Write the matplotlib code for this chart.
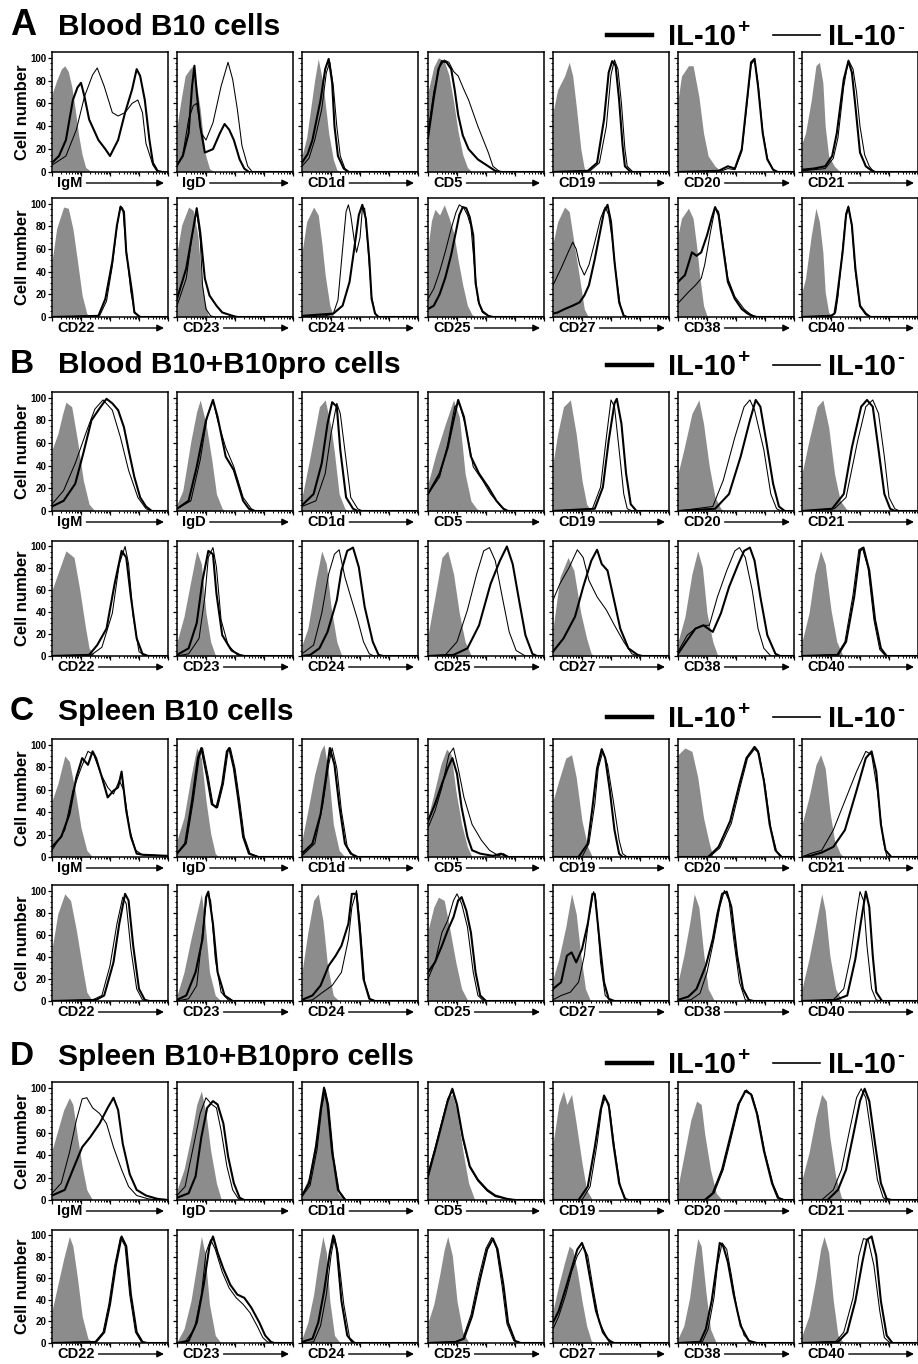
import matplotlib
matplotlib.use('Agg')
import matplotlib.pyplot as plt
import numpy as np

plt.rcParams['font.family'] = ['Liberation Sans', 'DejaVu Sans']
plt.rcParams['font.weight'] = 'bold'

# marker names for the two rows of each panel
top_markers = ['IgM', 'IgD', 'CD1d', 'CD5', 'CD19', 'CD20', 'CD21']
bot_markers = ['CD22', 'CD23', 'CD24', 'CD25', 'CD27', 'CD38', 'CD40']

# histogram curves: (x in % of axis width, cell number %)
# grey = isotype control, pos = IL-10+ (thick), neg = IL-10- (thin)

# ---- A: Blood B10 cells
A_top_grey = [
    [(0,68),(4,80),(8,90),(11,93),(14,88),(17,75),(20,55),(23,32),(26,15),(29,4),(33,1),(38,0)],
    [(0,40),(3,60),(7,84),(11,90),(14,93),(17,75),(20,55),(24,17),(28,3),(32,0)],
    [(0,14),(4,30),(7,52),(11,81),(14,99),(18,78),(23,34),(27,11),(30,2),(34,0)],
    [(0,70),(5,92),(9,100),(14,97),(18,85),(22,62),(26,35),(30,15),(34,4),(38,0)],
    [(0,52),(4,72),(10,84),(14,96),(17,84),(20,58),(24,20),(27,3),(30,0)],
    [(0,63),(3,84),(9,93),(13,93),(18,66),(22,34),(26,14),(32,5),(37,1),(40,0)],
    [(0,25),(3,34),(8,63),(12,93),(15,96),(18,78),(20,40),(23,14),(28,5),(33,0)],
]
A_top_pos = [
    [(0,8),(6,14),(12,28),(18,63),(22,74),(25,78),(28,66),(32,46),(40,28),(46,20),(50,14),(57,28),(63,52),(69,72),(73,90),(76,84),(80,63),(84,28),(87,8),(91,1),(95,0)],
    [(0,6),(5,14),(10,34),(13,75),(15,93),(17,70),(20,40),(24,17),(31,20),(37,34),(41,42),(45,37),(49,28),(54,11),(58,3),(62,0)],
    [(0,8),(5,16),(9,28),(16,63),(20,90),(23,99),(26,78),(28,40),(31,14),(36,3),(40,0)],
    [(0,30),(5,65),(9,90),(12,97),(16,96),(20,90),(23,72),(26,50),(30,32),(35,20),(43,11),(52,5),(58,1),(62,0)],
    [(0,0),(30,1),(38,8),(44,46),(48,87),(51,97),(54,93),(57,63),(60,23),(62,5),(67,0)],
    [(0,0),(35,1),(43,5),(49,3),(55,20),(59,58),(63,96),(66,99),(69,75),(73,34),(77,11),(82,2),(86,0)],
    [(0,2),(10,3),(20,5),(26,14),(30,34),(36,81),(40,97),(43,87),(46,58),(50,17),(55,5),(59,2),(63,0)],
]
A_top_neg = [
    [(0,6),(12,14),(21,37),(28,66),(35,85),(39,91),(45,75),(52,52),(57,49),(63,52),(69,60),(74,63),(78,52),(81,25),(87,6),(91,0)],
    [(0,5),(5,15),(10,46),(14,58),(17,60),(21,34),(25,28),(31,43),(38,75),(44,96),(48,81),(52,55),(56,23),(61,5),(65,0)],
    [(0,5),(6,12),(11,28),(17,55),(21,87),(24,96),(27,75),(30,40),(33,14),(37,3),(41,0)],
    [(0,35),(5,70),(10,92),(14,98),(18,96),(22,88),(26,84),(31,72),(35,63),(43,40),(52,17),(56,5),(61,1),(65,0)],
    [(0,0),(32,1),(40,8),(46,40),(50,85),(53,98),(56,90),(59,60),(62,20),(64,5),(69,0)],
    [(0,0),(35,0),(43,3),(49,2),(55,18),(59,55),(63,94),(66,98),(69,78),(73,36),(77,12),(82,2),(86,0)],
    [(0,1),(20,3),(27,12),(31,30),(36,75),(40,98),(44,90),(47,70),(50,40),(54,15),(58,5),(62,0)],
]
A_bot_grey = [
    [(0,49),(4,78),(10,97),(14,96),(18,78),(22,49),(26,19),(30,3),(33,0)],
    [(0,57),(4,81),(10,97),(14,94),(18,72),(21,34),(24,13),(27,1),(30,0)],
    [(0,57),(4,84),(10,97),(14,90),(17,66),(20,37),(24,10),(27,1),(30,0)],
    [(0,62),(3,85),(6,95),(10,90),(14,99),(18,88),(22,75),(26,50),(30,28),(34,10),(38,2),(41,0)],
    [(0,65),(4,84),(10,97),(14,93),(18,66),(23,34),(27,7),(30,1),(33,0)],
    [(0,72),(3,87),(9,96),(13,87),(16,63),(19,34),(22,10),(25,1),(28,0)],
    [(0,22),(3,34),(8,72),(12,96),(15,84),(18,57),(20,22),(23,4),(26,1),(29,0)],
]
A_bot_pos = [
    [(0,0),(40,1),(46,16),(52,49),(56,81),(59,97),(62,93),(64,57),(69,22),(71,4),(76,0)],
    [(0,16),(8,43),(14,78),(17,96),(20,75),(24,34),(28,19),(34,10),(39,4),(48,1),(52,0)],
    [(0,1),(27,3),(35,10),(41,31),(45,60),(49,90),(52,99),(55,87),(58,51),(60,16),(63,3),(66,0)],
    [(0,7),(5,10),(10,20),(15,35),(20,55),(24,75),(27,90),(30,97),(33,96),(36,88),(39,72),(41,30),(44,12),(47,5),(52,1),(56,0)],
    [(0,3),(4,4),(10,7),(17,10),(23,13),(27,19),(31,28),(36,51),(40,72),(44,93),(47,99),(50,84),(53,49),(57,13),(61,1),(64,0)],
    [(0,31),(6,37),(12,57),(16,54),(20,57),(25,72),(29,87),(32,97),(35,90),(39,60),(43,31),(49,16),(55,7),(60,3),(66,0)],
    [(0,0),(25,1),(28,3),(30,16),(35,57),(38,90),(40,97),(43,81),(46,43),(50,10),(55,3),(59,0)],
]
A_bot_neg = [
    [(0,0),(41,1),(47,14),(52,45),(56,80),(59,98),(61,96),(64,60),(68,22),(71,5),(75,0)],
    [(0,10),(8,34),(13,72),(17,93),(20,69),(22,28),(25,7),(29,1),(33,0)],
    [(0,0),(20,1),(27,3),(31,15),(35,60),(38,93),(40,99),(42,90),(45,68),(47,57),(50,70),(52,95),(54,96),(57,60),(60,18),(63,3),(66,0)],
    [(0,16),(5,25),(10,40),(15,58),(20,78),(24,92),(27,99),(31,96),(34,90),(37,80),(40,45),(43,15),(47,4),(52,1),(56,0)],
    [(0,28),(7,43),(13,57),(17,66),(20,60),(23,46),(27,37),(31,46),(36,66),(41,87),(45,97),(48,90),(51,69),(54,40),(58,10),(61,1),(64,0)],
    [(0,12),(9,22),(15,28),(20,34),(23,46),(28,75),(32,96),(35,93),(39,63),(43,34),(49,18),(57,7),(63,2),(69,0)],
    [(0,0),(25,1),(29,4),(31,18),(35,60),(38,92),(40,98),(43,80),(46,40),(50,9),(55,2),(59,0)],
]

# ---- B: Blood B10+B10pro cells
B_top_grey = [
    [(0,54),(5,68),(9,85),(12,96),(17,92),(22,62),(27,27),(32,6),(37,0)],
    [(0,6),(5,18),(12,62),(17,88),(20,98),(25,77),(30,45),(34,15),(39,2),(42,0)],
    [(0,12),(7,48),(15,92),(20,98),(25,74),(28,51),(32,15),(37,2),(40,0)],
    [(0,24),(7,51),(15,77),(22,98),(27,83),(32,33),(37,9),(42,2),(45,0)],
    [(0,42),(4,68),(9,92),(15,98),(20,68),(25,27),(29,6),(33,0)],
    [(0,33),(5,54),(12,86),(18,98),(22,77),(27,39),(32,12),(37,2),(40,0)],
    [(0,33),(6,62),(13,92),(18,98),(23,74),(28,33),(33,9),(38,2),(41,0)],
]
B_top_pos = [
    [(0,4),(10,9),(20,24),(27,51),(34,80),(42,92),(47,99),(52,95),(57,89),(62,74),(66,54),(71,30),(76,12),(81,4),(86,0)],
    [(0,2),(10,9),(17,39),(25,80),(31,98),(35,83),(42,48),(49,36),(57,9),(62,2),(66,0)],
    [(0,5),(10,15),(17,42),(22,77),(26,96),(30,92),(33,54),(38,12),(44,2),(48,0)],
    [(0,15),(10,33),(17,56),(22,80),(26,98),(31,83),(37,48),(44,33),(52,21),(59,9),(65,2),(69,0)],
    [(0,0),(36,2),(43,21),(48,62),(53,95),(55,99),(59,77),(63,33),(67,6),(72,0)],
    [(0,0),(32,2),(44,15),(54,48),(62,80),(67,98),(71,92),(76,62),(82,24),(87,4),(92,0)],
    [(0,0),(26,2),(36,15),(43,56),(51,92),(56,98),(61,92),(66,54),(71,15),(76,2),(80,0)],
]
B_top_neg = [
    [(0,6),(10,18),(20,42),(30,71),(37,90),(44,98),(52,89),(59,65),(66,36),(74,12),(81,2),(86,0)],
    [(0,2),(12,9),(20,45),(26,83),(31,98),(35,80),(42,56),(49,39),(57,12),(64,2),(68,0)],
    [(0,4),(12,9),(20,33),(25,68),(30,95),(33,86),(38,45),(42,12),(48,2),(52,0)],
    [(0,15),(10,30),(17,59),(23,92),(27,95),(32,77),(39,39),(47,27),(54,15),(62,5),(67,0)],
    [(0,0),(34,2),(41,21),(46,65),(50,98),(53,92),(57,54),(61,15),(64,2),(68,0)],
    [(0,0),(30,4),(39,27),(49,65),(57,92),(62,98),(66,89),(74,54),(80,15),(85,2),(89,0)],
    [(0,0),(28,2),(38,12),(48,62),(55,92),(61,98),(66,86),(71,48),(75,12),(80,2),(84,0)],
]
B_bot_grey = [
    [(0,60),(5,75),(12,96),(19,90),(24,60),(29,25),(32,7),(37,0)],
    [(0,13),(6,36),(12,69),(17,96),(21,84),(25,39),(29,13),(33,1),(36,0)],
    [(0,10),(5,25),(12,69),(17,96),(21,84),(25,45),(30,13),(34,1),(37,0)],
    [(0,19),(6,54),(12,90),(17,96),(22,75),(27,39),(32,13),(37,1),(40,0)],
    [(0,25),(6,72),(13,90),(18,78),(24,39),(29,16),(33,2),(36,0)],
    [(0,13),(6,36),(12,75),(17,96),(21,81),(25,39),(30,13),(34,1),(37,0)],
    [(0,13),(6,39),(11,75),(16,96),(20,84),(25,42),(30,13),(35,1),(38,0)],
]
B_bot_pos = [
    [(0,0),(32,1),(39,10),(47,25),(54,66),(60,96),(64,90),(68,54),(73,16),(78,2),(83,0)],
    [(0,1),(10,7),(17,30),(22,69),(27,96),(31,93),(34,57),(39,19),(47,5),(54,1),(58,0)],
    [(0,0),(7,1),(15,7),(22,22),(30,51),(34,78),(39,96),(44,99),(49,81),(54,45),(61,13),(66,1),(70,0)],
    [(0,0),(22,1),(34,7),(44,28),(54,66),(62,87),(68,100),(73,84),(79,48),(84,19),(90,2),(94,0)],
    [(0,4),(9,16),(19,36),(26,63),(33,87),(38,97),(42,84),(47,78),(52,54),(58,25),(65,7),(73,1),(77,0)],
    [(0,2),(7,13),(15,25),(22,28),(30,22),(37,39),(44,63),(52,84),(57,96),(62,99),(66,87),(71,54),(77,19),(84,2),(88,0)],
    [(0,0),(31,1),(38,13),(45,54),(50,96),(53,99),(58,78),(63,33),(68,7),(73,0)],
]
B_bot_neg = [
    [(0,0),(34,1),(43,8),(52,39),(58,84),(63,100),(66,84),(70,36),(75,4),(80,0)],
    [(0,0),(10,2),(19,16),(24,54),(27,90),(31,99),(34,81),(38,33),(44,10),(52,1),(56,0)],
    [(0,2),(10,10),(17,39),(23,75),(28,93),(32,97),(37,72),(42,54),(48,33),(53,13),(58,2),(62,0)],
    [(0,0),(15,1),(25,13),(34,42),(42,75),(48,96),(53,99),(58,87),(64,54),(70,22),(76,5),(84,0)],
    [(0,51),(6,66),(14,81),(21,97),(26,90),(31,69),(38,54),(46,42),(53,28),(61,13),(68,2),(73,0)],
    [(0,4),(8,19),(15,25),(21,28),(27,28),(34,54),(42,78),(49,96),(53,99),(58,90),(64,60),(69,25),(74,7),(80,0)],
    [(0,0),(30,1),(37,13),(44,56),(49,97),(52,99),(57,80),(62,33),(67,6),(72,0)],
]

# ---- C: Spleen B10 cells
C_top_grey = [
    [(0,50),(5,65),(11,90),(15,85),(20,59),(25,26),(30,6),(35,0)],
    [(0,15),(6,35),(12,71),(17,97),(21,88),(25,50),(29,21),(33,3),(36,0)],
    [(0,15),(5,41),(11,74),(16,94),(19,100),(23,74),(27,29),(32,6),(37,0)],
    [(0,35),(5,56),(11,82),(16,96),(20,91),(24,59),(29,29),(34,9),(38,0)],
    [(0,50),(5,68),(11,88),(16,91),(20,71),(25,32),(30,9),(34,0)],
    [(0,91),(6,97),(12,94),(17,71),(22,35),(27,12),(30,1),(33,0)],
    [(0,29),(6,53),(12,82),(16,91),(20,79),(24,41),(28,15),(33,3),(36,0)],
]
C_top_pos = [
    [(0,9),(8,18),(15,38),(21,71),(26,88),(31,82),(35,94),(38,88),(43,71),(48,53),(53,59),(57,62),(60,76),(64,41),(68,18),(73,3),(78,2),(100,1)],
    [(0,3),(7,12),(13,50),(18,88),(21,97),(26,71),(30,47),(34,44),(39,65),(43,94),(45,97),(49,79),(53,50),(57,18),(62,3),(70,0)],
    [(0,3),(9,12),(16,38),(21,74),(24,97),(28,82),(32,47),(37,12),(42,3),(48,0)],
    [(0,32),(6,47),(12,65),(17,79),(21,88),(25,74),(29,44),(34,18),(38,6),(45,3),(56,1),(63,3),(68,0)],
    [(0,0),(22,0),(30,12),(34,44),(38,79),(42,96),(45,88),(49,59),(53,24),(57,3),(60,0)],
    [(0,0),(26,0),(35,9),(45,32),(53,65),(59,88),(66,98),(69,94),(74,68),(79,29),(84,6),(89,0)],
    [(0,0),(7,1),(17,4),(27,9),(37,24),(47,59),(55,88),(60,94),(64,76),(68,29),(72,6),(77,0)],
]
C_top_neg = [
    [(0,6),(11,24),(18,59),(25,79),(31,94),(36,91),(42,74),(48,62),(53,56),(58,68),(62,59),(67,24),(72,6),(78,2),(100,1)],
    [(0,3),(8,12),(14,50),(19,88),(22,97),(27,71),(31,47),(35,44),(40,65),(44,94),(46,97),(50,79),(54,50),(58,18),(63,3),(71,0)],
    [(0,1),(11,12),(18,47),(23,82),(26,97),(30,79),(34,41),(39,9),(45,0)],
    [(0,26),(6,41),(12,62),(18,91),(22,97),(26,79),(31,53),(38,29),(46,15),(53,6),(61,1),(65,3),(70,0)],
    [(0,0),(25,0),(31,12),(36,47),(39,79),(43,94),(47,82),(52,50),(57,15),(60,3),(64,0)],
    [(0,0),(27,0),(36,8),(46,30),(54,64),(60,88),(66,96),(70,92),(75,64),(80,26),(85,5),(90,0)],
    [(0,0),(7,3),(17,6),(27,24),(37,50),(47,76),(55,94),(60,91),(65,59),(70,15),(73,1),(76,0)],
]
C_bot_grey = [
    [(0,47),(5,79),(11,97),(16,91),(21,64),(26,32),(30,8),(35,0)],
    [(0,5),(6,26),(12,56),(17,79),(21,97),(24,73),(28,26),(33,5),(38,0)],
    [(0,26),(5,62),(10,91),(14,97),(18,73),(22,32),(27,5),(32,0)],
    [(0,64),(5,85),(9,94),(14,91),(19,64),(24,35),(29,11),(34,1),(37,0)],
    [(0,20),(5,38),(11,67),(16,97),(20,79),(24,41),(28,11),(32,1),(35,0)],
    [(0,17),(5,41),(10,70),(14,97),(18,85),(22,44),(26,11),(31,1),(34,0)],
    [(0,11),(6,38),(12,70),(17,97),(20,82),(24,41),(29,11),(34,1),(37,0)],
]
C_bot_pos = [
    [(0,0),(38,1),(45,5),(53,35),(58,70),(63,97),(66,91),(70,50),(75,11),(80,1),(84,0)],
    [(0,1),(8,5),(16,26),(22,56),(25,94),(27,99),(31,70),(35,26),(41,5),(48,0)],
    [(0,1),(9,5),(16,14),(23,32),(29,41),(34,50),(40,70),(43,97),(47,97),(50,62),(53,20),(58,2),(63,0)],
    [(0,26),(6,35),(12,50),(17,64),(22,76),(26,91),(29,94),(33,82),(37,62),(41,26),(45,5),(50,0)],
    [(0,11),(7,17),(12,41),(16,44),(20,35),(25,47),(30,70),(34,97),(36,97),(40,56),(44,17),(48,2),(53,0)],
    [(0,1),(9,4),(16,11),(24,32),(30,56),(34,79),(38,97),(42,99),(46,85),(51,41),(56,11),(61,1),(65,0)],
    [(0,0),(29,1),(39,5),(46,38),(51,73),(55,99),(58,85),(61,41),(64,8),(69,0)],
]
C_bot_neg = [
    [(0,0),(35,1),(43,5),(50,32),(56,70),(61,94),(64,88),(68,47),(73,11),(78,1),(82,0)],
    [(0,0),(10,2),(17,14),(22,62),(26,97),(29,91),(33,38),(38,8),(45,0)],
    [(0,0),(9,1),(18,8),(26,14),(34,26),(40,56),(43,85),(47,100),(50,70),(54,17),(59,1),(63,0)],
    [(0,20),(6,35),(12,62),(17,73),(22,91),(25,97),(29,88),(34,67),(39,26),(43,5),(48,0)],
    [(0,1),(7,5),(15,8),(22,17),(27,41),(31,76),(35,99),(37,91),(41,35),(45,5),(50,0)],
    [(0,0),(11,1),(19,7),(25,26),(31,56),(36,85),(40,100),(44,91),(48,56),(53,17),(58,1),(62,0)],
    [(0,0),(27,1),(36,11),(42,41),(47,79),(50,99),(53,91),(56,50),(60,11),(64,1),(68,0)],
]

# ---- D: Spleen B10+B10pro cells
D_top_grey = [
    [(0,44),(5,62),(10,80),(15,91),(18,85),(22,56),(26,30),(30,9),(35,0)],
    [(0,9),(6,27),(12,56),(17,85),(21,97),(25,77),(29,44),(34,15),(38,1),(41,0)],
    [(0,6),(6,21),(12,56),(16,85),(19,100),(22,80),(26,33),(31,6),(36,0)],
    [(0,27),(6,50),(12,74),(17,91),(21,94),(25,80),(30,44),(35,15),(40,1),(43,0)],
    [(0,50),(5,85),(9,97),(12,85),(16,94),(20,68),(25,33),(29,9),(34,0)],
    [(0,12),(6,44),(11,71),(16,88),(20,85),(23,59),(28,27),(33,6),(38,0)],
    [(0,18),(6,42),(12,74),(17,94),(21,88),(24,56),(29,21),(34,2),(37,0)],
]
D_top_pos = [
    [(0,4),(11,9),(18,27),(26,47),(33,56),(41,68),(48,82),(53,91),(57,80),(61,50),(67,23),(73,9),(81,4),(91,1),(100,0)],
    [(0,2),(10,6),(16,21),(21,56),(26,82),(31,88),(35,85),(40,68),(44,39),(49,15),(54,2),(58,0)],
    [(0,4),(6,15),(12,47),(16,80),(19,100),(22,85),(26,42),(31,9),(37,0)],
    [(0,21),(6,44),(12,68),(17,88),(21,99),(25,85),(30,56),(36,30),(43,18),(51,9),(58,4),(68,1),(75,0)],
    [(0,0),(22,0),(30,12),(36,47),(41,80),(44,93),(48,85),(52,50),(57,15),(62,1),(65,0)],
    [(0,0),(23,0),(30,6),(38,27),(45,56),(52,85),(58,97),(63,94),(68,77),(74,44),(81,15),(86,2),(91,0)],
    [(0,0),(22,0),(31,9),(38,27),(45,62),(50,88),(54,99),(58,88),(63,50),(68,15),(73,1),(77,0)],
]
D_top_neg = [
    [(0,6),(8,15),(15,42),(21,71),(26,90),(30,91),(35,82),(41,77),(47,68),(53,47),(60,27),(66,12),(73,4),(83,1),(92,0)],
    [(0,4),(7,12),(13,42),(20,77),(25,91),(30,85),(34,82),(38,62),(43,30),(48,9),(53,1),(57,0)],
    [(0,3),(7,13),(13,45),(17,82),(20,98),(23,84),(27,40),(32,8),(38,0)],
    [(0,24),(6,46),(12,70),(17,90),(21,97),(25,84),(30,54),(36,29),(43,17),(51,8),(58,3),(68,1),(75,0)],
    [(0,0),(25,0),(32,12),(38,50),(42,82),(45,91),(49,80),(53,47),(58,12),(63,0)],
    [(0,0),(24,0),(31,6),(39,27),(46,56),(53,86),(59,98),(64,93),(69,75),(75,42),(82,14),(87,2),(92,0)],
    [(0,0),(17,0),(27,9),(34,27),(41,62),(47,91),(51,99),(55,91),(60,56),(65,18),(70,2),(74,0)],
]
D_bot_grey = [
    [(0,30),(5,54),(10,78),(15,99),(18,90),(22,60),(26,25),(31,4),(36,0)],
    [(0,1),(6,13),(12,39),(17,72),(21,99),(24,84),(28,36),(33,7),(38,0)],
    [(0,4),(5,19),(10,45),(14,75),(18,99),(21,84),(24,39),(28,7),(33,0)],
    [(0,19),(5,36),(10,63),(14,87),(17,99),(21,81),(25,39),(30,10),(35,1),(38,0)],
    [(0,30),(5,54),(10,75),(14,90),(17,87),(21,66),(25,39),(29,16),(33,2),(36,0)],
    [(0,4),(5,16),(10,42),(14,75),(17,97),(20,90),(24,48),(28,13),(33,0)],
    [(0,7),(6,25),(12,60),(16,87),(19,99),(23,84),(27,39),(31,7),(36,0)],
]
D_bot_pos = [
    [(0,0),(38,1),(45,10),(50,36),(55,72),(60,99),(64,90),(68,45),(73,10),(78,1),(82,0)],
    [(0,0),(10,2),(17,19),(23,54),(28,90),(31,99),(35,84),(40,69),(46,54),(52,45),(58,42),(64,33),(71,19),(76,7),(81,1),(84,0)],
    [(0,1),(9,4),(14,19),(19,48),(24,84),(27,100),(30,87),(34,39),(39,7),(44,0)],
    [(0,0),(24,1),(31,4),(38,25),(45,60),(51,87),(56,97),(60,87),(65,54),(69,19),(75,2),(80,0)],
    [(0,19),(5,30),(11,51),(16,69),(21,87),(25,93),(28,84),(32,60),(37,30),(43,10),(49,1),(53,0)],
    [(0,0),(19,1),(24,13),(29,39),(33,69),(36,93),(39,90),(43,75),(48,45),(54,16),(61,2),(68,0)],
    [(0,0),(31,1),(39,10),(46,39),(52,75),(56,96),(60,99),(64,81),(68,39),(73,7),(78,0)],
]
D_bot_neg = [
    [(0,0),(37,1),(44,10),(49,36),(54,72),(59,98),(63,90),(67,45),(72,10),(77,1),(81,0)],
    [(0,0),(7,1),(15,13),(21,45),(25,84),(29,96),(33,87),(39,66),(45,51),(51,42),(57,36),(63,28),(69,16),(74,5),(78,1),(81,0)],
    [(0,0),(10,1),(16,16),(21,45),(25,81),(28,99),(31,84),(36,36),(41,5),(46,0)],
    [(0,0),(23,1),(30,4),(37,26),(44,62),(50,88),(55,98),(59,88),(64,52),(68,18),(74,2),(79,0)],
    [(0,13),(5,25),(11,45),(16,66),(21,81),(26,90),(30,81),(35,48),(40,19),(47,4),(53,0)],
    [(0,0),(21,1),(26,13),(31,42),(34,72),(38,93),(42,87),(46,63),(51,30),(57,7),(64,0)],
    [(0,0),(29,1),(36,10),(44,42),(49,81),(53,97),(57,96),(62,72),(67,30),(71,5),(76,0)],
]

W, H = 918, 1364
fig = plt.figure(figsize=(W / 100, H / 100), dpi=100)

GREY = '#8c8c8c'
NARROW = ['Liberation Sans Narrow', 'Liberation Sans', 'DejaVu Sans']
col_left = [52, 177, 302, 428, 553, 678, 802]
col_w = 116

# letter, title, title baseline, legend baseline, letter size, (top row px), (bottom row px), data
panels = [
    ('A', 'Blood B10 cells', 35, 45, 26, (52, 172), (198, 317),
     (A_top_grey, A_top_pos, A_top_neg), (A_bot_grey, A_bot_pos, A_bot_neg)),
    ('B', 'Blood B10+B10pro cells', 373, 375, 24, (392, 511), (541, 656),
     (B_top_grey, B_top_pos, B_top_neg), (B_bot_grey, B_bot_pos, B_bot_neg)),
    ('C', 'Spleen B10 cells', 720, 727, 24, (739, 857), (885, 1001),
     (C_top_grey, C_top_pos, C_top_neg), (C_bot_grey, C_bot_pos, C_bot_neg)),
    ('D', 'Spleen B10+B10pro cells', 1065, 1073, 24, (1082, 1200), (1230, 1343),
     (D_top_grey, D_top_pos, D_top_neg), (D_bot_grey, D_bot_pos, D_bot_neg)),
]

def fx(x):
    return x / W

def fy(y):
    return 1 - y / H

minor_x = [25 * (d + np.log10(k)) for d in range(4) for k in range(2, 10)]

def closed(curve):
    xs = [p[0] for p in curve]
    ys = [p[1] for p in curve]
    if xs[-1] < 100:
        xs.append(100)
        ys.append(0)
    return xs, ys

labels = []
supers = []
for letter, title, tb, lb, lsize, row1, row2, d1, d2 in panels:
    fig.text(fx(10), fy(tb), letter, fontsize=lsize, fontweight='bold', va='baseline')
    fig.text(fx(58), fy(tb), title, fontsize=21.5, fontweight='bold', va='baseline')
    # legend
    ly = lb - 10
    fig.add_artist(plt.Line2D([fx(607), fx(652)], [fy(ly), fy(ly)], color='black', lw=3.2))
    t1 = fig.text(fx(668), fy(lb), 'IL-10', fontsize=21, fontweight='bold', va='baseline',
                  family=NARROW)
    supers.append((t1, '+', lb))
    fig.add_artist(plt.Line2D([fx(773), fx(820)], [fy(ly), fy(ly)], color='black', lw=1.2))
    t2 = fig.text(fx(828), fy(lb), 'IL-10', fontsize=21, fontweight='bold', va='baseline',
                  family=NARROW)
    supers.append((t2, '-', lb))

    for (top, bot), (grey, pos, neg), markers in ((row1, d1, top_markers), (row2, d2, bot_markers)):
        for i in range(7):
            ax = fig.add_axes([fx(col_left[i]), fy(bot), col_w / W, (bot - top) / H])
            xs, ys = closed(grey[i])
            ax.fill_between(xs, ys, 0, color=GREY, lw=0, zorder=1)
            xs, ys = closed(neg[i])
            ax.plot(xs, ys, color='black', lw=0.75, zorder=3)
            xs, ys = closed(pos[i])
            ax.plot(xs, ys, color='black', lw=1.5, zorder=4)
            ax.set_xlim(0, 100)
            ax.set_ylim(0, 105)
            ax.set_yticks([0, 20, 40, 60, 80, 100])
            ax.set_yticks(np.arange(0, 101, 5), minor=True)
            ax.set_xticks([0, 25, 50, 75, 100])
            ax.set_xticks(minor_x, minor=True)
            ax.tick_params(axis='both', which='major', direction='out', length=3, width=0.9,
                           labelsize=7, pad=1)
            ax.tick_params(axis='both', which='minor', direction='out', length=1.6, width=0.7)
            ax.tick_params(axis='x', labelbottom=False)
            if i > 0:
                ax.tick_params(axis='y', labelleft=False)
            else:
                for t in ax.get_yticklabels():
                    t.set_fontweight('bold')
            for s in ax.spines.values():
                s.set_linewidth(1.1)
            t = fig.text(fx(col_left[i] + 5), fy(bot + 11), markers[i], fontsize=10.5,
                         fontweight='bold', va='center')
            labels.append((t, col_left[i] + col_w - 4, bot + 11))
        fig.text(fx(23), fy((top + bot) / 2), 'Cell number', fontsize=12, fontweight='bold',
                 rotation=90, ha='center', va='center')

fig.canvas.draw()
renderer = fig.canvas.get_renderer()
for t, xend, ypx in labels:
    bb = t.get_window_extent(renderer)
    x0 = bb.x1 + 4
    yy = H - ypx
    fig.add_artist(matplotlib.patches.FancyArrowPatch(
        (x0, yy), (xend, yy), transform=None, arrowstyle='-|>', mutation_scale=10,
        lw=1.0, color='black', shrinkA=0, shrinkB=0))

# superscript signs of the legend
for t, sign, lb in supers:
    bb = t.get_window_extent(renderer)
    fig.text((bb.x1 + 1) / W, fy(lb - 12), sign, fontsize=15, fontweight='bold',
             va='baseline', family=NARROW)

fig.savefig('out.png', dpi=100)
